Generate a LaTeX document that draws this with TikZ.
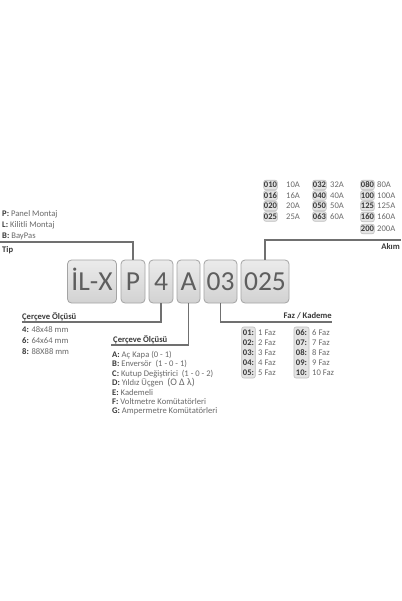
\documentclass[tikz,border=0pt]{standalone}
\usepackage{fontspec}
\setmainfont{Carlito}
\definecolor{txtgray}{HTML}{6A6A6A}
\definecolor{lblgray}{HTML}{3A3A3A}
\definecolor{linegray}{HTML}{707070}
\definecolor{boxtop}{HTML}{EBEBEB}
\definecolor{boxbot}{HTML}{D2D2D2}
\definecolor{boxedge}{HTML}{A4A4A4}
\definecolor{bigtxt}{HTML}{5E5E5E}
\definecolor{codefill}{HTML}{E4E4E4}
\definecolor{codeedge}{HTML}{BDBDBD}
\begin{document}
\begin{tikzpicture}[x=1pt,y=-1pt,
  bigbox/.style={draw=boxedge,line width=0.8pt,rounded corners=4pt,top color=boxtop,bottom color=boxbot,
    minimum height=43pt,inner sep=0pt,text=bigtxt,font=\fontsize{27.5}{28}\selectfont,text height=17.7pt,text depth=0pt},
  conn/.style={draw=linegray,line width=1.3pt},
  desc/.style={anchor=base west,inner sep=0pt,text=txtgray,font=\fontsize{8.6}{9}\selectfont},
  lbl/.style={inner sep=0pt,text=lblgray,font=\bfseries\fontsize{8.6}{9}\selectfont},
  codebox/.style={draw=codeedge,line width=0.6pt,fill=codefill,rounded corners=2pt,minimum width=13.5pt,minimum height=9.5pt,
    inner sep=0pt,text=lblgray,font=\bfseries\fontsize{8.6}{9}\selectfont,text height=5.5pt,text depth=0pt},
  val/.style={anchor=west,inner sep=0pt,text=txtgray,font=\fontsize{8.6}{9}\selectfont,text height=5.5pt,text depth=0pt},
  fcode/.style={anchor=center,inner sep=0pt,text=lblgray,font=\bfseries\fontsize{8.6}{9}\selectfont,text height=5.5pt,text depth=0pt},
  colbox/.style={draw=codeedge,line width=0.6pt,fill=codefill,rounded corners=2pt,inner sep=0pt}
]
\useasboundingbox[fill=white] (0,0) rectangle (401,601);

% main code boxes
\node[bigbox,minimum width=49pt] (b1) at (92,281.5) {İL-X};
\node[bigbox,minimum width=24pt] (b2) at (133,281.5) {P};
\node[bigbox,minimum width=24pt] (b3) at (161,281.5) {4};
\node[bigbox,minimum width=23pt] (b4) at (188.5,281.5) {A};
\node[bigbox,minimum width=33pt] (b5) at (220.5,281.5) {03};
\node[bigbox,minimum width=48pt] (b6) at (265,281.5) {025};

% connector end points
\coordinate (tipL) at (0,242);
\coordinate (akR) at (401,240);
\coordinate (c1L) at (22,322);
\coordinate (c2L) at (111,345);
\coordinate (fzR) at (332,322);

\draw[conn] (b2.north) |- (tipL);
\draw[conn] (b6.north) |- (akR);
\draw[conn] (b3.south) |- (c1L);
\draw[conn] (b4.south) |- (c2L);
\draw[conn] (b5.south) |- (fzR);

% Tip
\node[desc] (t1) at (2,217) {\textcolor{lblgray}{\bfseries P:} Panel Montaj};
\node[desc] (t2) at (2,228) {\textcolor{lblgray}{\bfseries L:} Kilitli Montaj};
\node[desc] (t3) at (2,239) {\textcolor{lblgray}{\bfseries B:} BayPas};
\node[lbl,anchor=base west] (tip) at (2,252) {Tip};

% Akim
\node[lbl,anchor=base east] (akim) at (400,250) {Akım};
\node[codebox] (a1) at (270.5,185) {010}; \node[val] (v1) at (286,185) {10A};
\node[codebox] (a2) at (270.5,195.5) {016}; \node[val] (v2) at (286,195.5) {16A};
\node[codebox] (a3) at (270.5,206) {020}; \node[val] (v3) at (286,206) {20A};
\node[codebox] (a4) at (270.5,216.5) {025}; \node[val] (v4) at (286,216.5) {25A};
\node[codebox] (a5) at (319.5,185) {032}; \node[val] (v5) at (330,185) {32A};
\node[codebox] (a6) at (319.5,195.5) {040}; \node[val] (v6) at (330,195.5) {40A};
\node[codebox] (a7) at (319.5,206) {050}; \node[val] (v7) at (330,206) {50A};
\node[codebox] (a8) at (319.5,216.5) {063}; \node[val] (v8) at (330,216.5) {60A};
\node[codebox] (a9) at (367.5,185) {080}; \node[val] (v9) at (377,185) {80A};
\node[codebox] (a10) at (367.5,195.5) {100}; \node[val] (v10) at (377,195.5) {100A};
\node[codebox] (a11) at (367.5,206) {125}; \node[val] (v11) at (377,206) {125A};
\node[codebox] (a12) at (367.5,217) {160}; \node[val] (v12) at (377,217) {160A};
\node[codebox] (a13) at (367.5,229) {200}; \node[val] (v13) at (377,229) {200A};

% Cerceve 1
\node[lbl,anchor=base west] (c1) at (22,319) {Çerçeve Ölçüsü};
\node[desc] (c1a) at (22,332) {\textcolor{lblgray}{\bfseries 4:} 48x48 mm};
\node[desc] (c1b) at (22,343) {\textcolor{lblgray}{\bfseries 6:} 64x64 mm};
\node[desc] (c1c) at (22,354) {\textcolor{lblgray}{\bfseries 8:} 88X88 mm};

% Cerceve 2
\node[lbl,anchor=base west] (c2) at (113,342) {Çerçeve Ölçüsü};
\node[desc] (c2a) at (112,357) {\textcolor{lblgray}{\bfseries A:} Aç Kapa (0 - 1)};
\node[desc] (c2b) at (112,366.5) {\textcolor{lblgray}{\bfseries B:} Enversör\ \ (1 - 0 - 1)};
\node[desc] (c2c) at (112,376) {\textcolor{lblgray}{\bfseries C:} Kutup Değiştirici\ \ (1 - 0 - 2)};
\node[desc] (c2d) at (112,385.5) {\textcolor{lblgray}{\bfseries D:} Yıldız Üçgen\ \ {\fontsize{10}{10}\selectfont(O Δ λ)}};
\node[desc] (c2e) at (112,395) {\textcolor{lblgray}{\bfseries E:} Kademeli};
\node[desc] (c2f) at (112,404.5) {\textcolor{lblgray}{\bfseries F:} Voltmetre Komütatörleri};
\node[desc] (c2g) at (112,413.5) {\textcolor{lblgray}{\bfseries G:} Ampermetre Komütatörleri};

% Faz / Kademe
\node[lbl,anchor=base east] (fz) at (332,318) {Faz / Kademe};
\node[colbox,minimum width=13.5pt,minimum height=51pt] (fc1) at (248.5,352.5) {};
\node[colbox,minimum width=15pt,minimum height=51pt] (fc2) at (301.5,352.5) {};
\foreach \i/\y in {1/333,2/343,3/353,4/363,5/373}{
  \node[fcode] (fa\i) at (248.5,\y) {0\i:};
  \node[val] (fv\i) at (258,\y) {\i\ Faz};
}
\foreach \i/\y in {6/333,7/343,8/353,9/363}{
  \node[fcode] (fb\i) at (301.5,\y) {0\i:};
  \node[val] (fw\i) at (312,\y) {\i\ Faz};
}
\node[fcode] (fb10) at (301.5,373) {10:};
\node[val] (fw10) at (312,373) {10 Faz};
\end{tikzpicture}
\end{document}
